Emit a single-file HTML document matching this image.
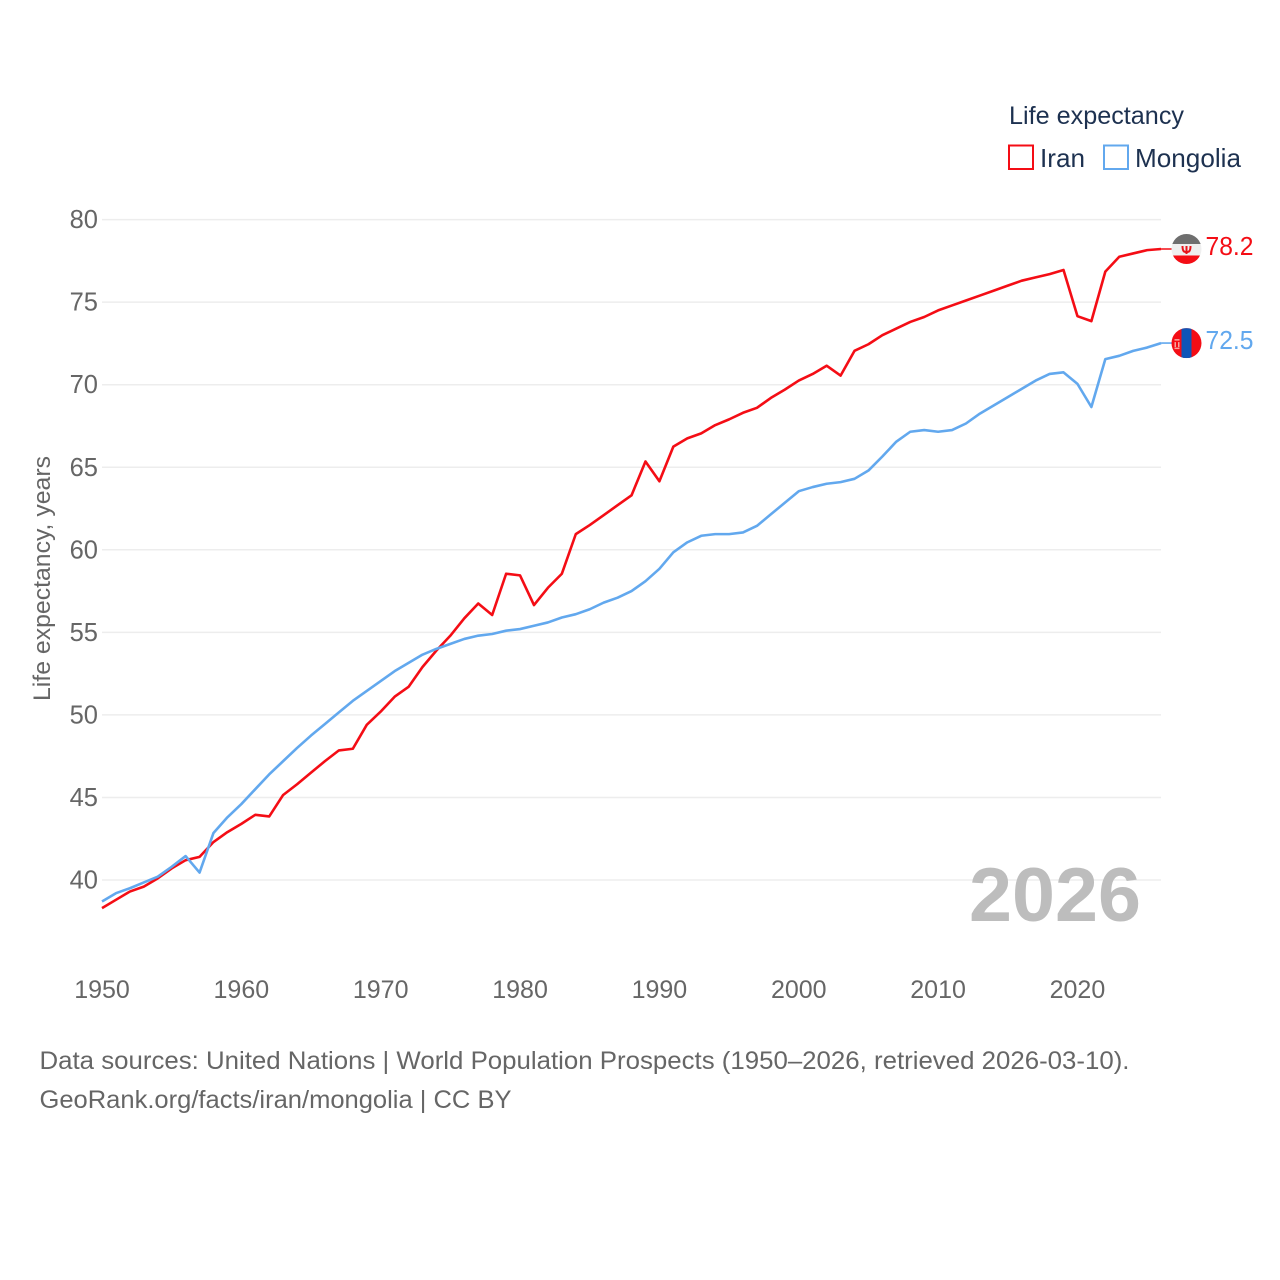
<!DOCTYPE html>
<html lang="en">
<head>
<meta charset="utf-8">
<title>Life expectancy: Iran and Mongolia</title>
<style>
html,body{margin:0;padding:0;background:#fff}
svg{display:block;font-family:"Liberation Sans",sans-serif}
</style>
</head>
<body>
<svg id="chart" xmlns="http://www.w3.org/2000/svg" width="1280" height="1280" viewBox="0 0 1280 1280">
  <defs>
    <clipPath id="flag-clip"><circle cx="0" cy="0" r="15"></circle></clipPath>
  </defs>
  <rect x="0" y="0" width="1280" height="1280" fill="#fff"></rect>
  <g id="grid"></g>
  <g id="y-ticks"></g>
  <g id="x-ticks"></g>
  <text transform="translate(50,701) rotate(-90)" font-size="24.5" fill="#666" textLength="245" lengthAdjust="spacingAndGlyphs">Life expectancy, years</text>
  <text x="969" y="921" font-size="76" font-weight="700" fill="#bdbdbd" textLength="172" lengthAdjust="spacingAndGlyphs">2026</text>
  <g id="series"></g>
  <g id="end-markers"></g>

  <g>
    <text x="1009" y="124" font-size="25" fill="#1d3150" textLength="175" lengthAdjust="spacingAndGlyphs">Life expectancy</text>
    <rect x="1009" y="145.5" width="24" height="23.5" fill="#fff" stroke="#f40d15" stroke-width="2"></rect>
    <text x="1040" y="167" font-size="26" fill="#1d3150" textLength="45" lengthAdjust="spacingAndGlyphs">Iran</text>
    <rect x="1104" y="145.5" width="24" height="23.5" fill="#fff" stroke="#62a8ee" stroke-width="2"></rect>
    <text x="1135" y="167" font-size="26" fill="#1d3150" textLength="106" lengthAdjust="spacingAndGlyphs">Mongolia</text>
  </g>

  <text x="39.5" y="1069" font-size="25" fill="#666" textLength="1090" lengthAdjust="spacingAndGlyphs">Data sources: United Nations | World Population Prospects (1950–2026, retrieved 2026-03-10).</text>
  <text x="39.5" y="1108" font-size="25" fill="#666" textLength="472" lengthAdjust="spacingAndGlyphs">GeoRank.org/facts/iran/mongolia | CC BY</text>
</svg>

<script>
const years = [1950,1951,1952,1953,1954,1955,1956,1957,1958,1959,1960,1961,1962,1963,1964,1965,1966,1967,1968,1969,1970,1971,1972,1973,1974,1975,1976,1977,1978,1979,1980,1981,1982,1983,1984,1985,1986,1987,1988,1989,1990,1991,1992,1993,1994,1995,1996,1997,1998,1999,2000,2001,2002,2003,2004,2005,2006,2007,2008,2009,2010,2011,2012,2013,2014,2015,2016,2017,2018,2019,2020,2021,2022,2023,2024,2025,2026];
const iranValues = [38.3,38.8,39.3,39.6,40.1,40.7,41.2,41.4,42.3,42.9,43.4,43.95,43.85,45.15,45.8,46.5,47.2,47.85,47.95,49.4,50.2,51.1,51.7,52.9,53.9,54.8,55.85,56.75,56.05,58.55,58.45,56.65,57.7,58.55,60.95,61.5,62.1,62.7,63.3,65.35,64.15,66.25,66.75,67.05,67.55,67.9,68.3,68.6,69.2,69.7,70.25,70.65,71.15,70.55,72.05,72.45,73,73.4,73.8,74.1,74.5,74.8,75.1,75.4,75.7,76,76.3,76.5,76.7,76.95,74.15,73.85,76.85,77.75,77.95,78.15,78.22];
const mongoliaValues = [38.7,39.2,39.5,39.85,40.2,40.8,41.45,40.45,42.85,43.8,44.6,45.5,46.4,47.2,48,48.75,49.45,50.15,50.85,51.45,52.05,52.65,53.15,53.65,54,54.3,54.6,54.8,54.9,55.1,55.2,55.4,55.6,55.9,56.1,56.4,56.8,57.1,57.5,58.1,58.85,59.85,60.45,60.85,60.95,60.95,61.05,61.45,62.15,62.85,63.55,63.8,64,64.1,64.3,64.8,65.65,66.55,67.15,67.25,67.15,67.25,67.65,68.25,68.75,69.25,69.75,70.25,70.65,70.75,70.05,68.65,71.55,71.75,72.05,72.25,72.52];
const yTickValues = [40,45,50,55,60,65,70,75,80];
const xTickValues = [1950,1960,1970,1980,1990,2000,2010,2020];

const SVG_NS = 'http://www.w3.org/2000/svg';
const xScale = function (year) { return 102 + (year - 1950) * 13.935; };
const yScale = function (value) { return 880 - (value - 40) * 16.51; };

const gridLayer = document.getElementById('grid');
const yTickLayer = document.getElementById('y-ticks');
const xTickLayer = document.getElementById('x-ticks');
const seriesLayer = document.getElementById('series');
const markerLayer = document.getElementById('end-markers');

function make(tag, attrs, parent, text) {
  const el = document.createElementNS(SVG_NS, tag);
  Object.keys(attrs).forEach(function (k) { el.setAttribute(k, attrs[k]); });
  if (text !== undefined) el.textContent = text;
  parent.appendChild(el);
  return el;
}

yTickValues.forEach(function (v) {
  const line = make('line', {x1: 102, x2: 1161, y1: yScale(v), y2: yScale(v), stroke: '#ededed', 'stroke-width': 1.5}, gridLayer);
  
  
  const label = make('text', {x: 98, y: yScale(v) + 8.5, 'text-anchor': 'end', 'font-size': 25.5, fill: '#666'}, yTickLayer, String(v));
  
  
});

xTickValues.forEach(function (yr) {
  const label = make('text', {x: xScale(yr), y: 998, 'text-anchor': 'middle', 'font-size': 25, fill: '#666'}, xTickLayer, String(yr));
  
  
});

function pathFor(values) {
  return values.map(function (v, i) {
    return (i ? 'L' : 'M') + xScale(years[i]).toFixed(2) + ' ' + yScale(v).toFixed(2);
  }).join(' ');
}

const iranLine = make('path', {d: pathFor(iranValues), fill: 'none', stroke: '#f40d15', 'stroke-width': 2.6, 'stroke-linejoin': 'round'}, seriesLayer);


const mongoliaLine = make('path', {d: pathFor(mongoliaValues), fill: 'none', stroke: '#62a8ee', 'stroke-width': 2.6, 'stroke-linejoin': 'round'}, seriesLayer);



const lastIndex = years.length - 1;
const markerX = 1186.5;
const lineEndX = xScale(years[lastIndex]);

/* Iran end marker */
const iranY = yScale(iranValues[lastIndex]);
const iranConnector = make('line', {x1: lineEndX, x2: markerX, y1: iranY, y2: iranY, stroke: '#f40d15', 'stroke-width': 1.6}, markerLayer);


const iranFlag = make('g', {transform: 'translate(' + markerX + ',' + iranY + ')', 'clip-path': 'url(#flag-clip)'}, markerLayer);


make('rect', {x: -15, y: -15, width: 30, height: 30, fill: '#efefef'}, iranFlag);
make('rect', {x: -15, y: -15, width: 30, height: 10, fill: '#6e6e6e'}, iranFlag);
make('rect', {x: -15, y: 6.5, width: 30, height: 9, fill: '#f40d15'}, iranFlag);
make('path', {d: 'M-4 -3 C-4 3 -2 3 0 3 C2 3 4 3 4 -3 M0 -3 V5', fill: 'none', stroke: '#e8131b', 'stroke-width': 2}, iranFlag);
const iranValueLabel = make('text', {x: 1205.5, y: iranY + 6, 'font-size': 25.5, fill: '#f40d15', textLength: 48, lengthAdjust: 'spacingAndGlyphs'}, markerLayer, iranValues[lastIndex].toFixed(1));



/* Mongolia end marker */
const mongoliaY = yScale(mongoliaValues[lastIndex]);
const mongoliaConnector = make('line', {x1: lineEndX, x2: markerX, y1: mongoliaY, y2: mongoliaY, stroke: '#62a8ee', 'stroke-width': 1.6}, markerLayer);


const mongoliaFlag = make('g', {transform: 'translate(' + markerX + ',' + mongoliaY + ')', 'clip-path': 'url(#flag-clip)'}, markerLayer);


make('rect', {x: -15, y: -15, width: 30, height: 30, fill: '#f40d15'}, mongoliaFlag);
make('rect', {x: -5, y: -15, width: 10, height: 30, fill: '#0f55b8'}, mongoliaFlag);
make('rect', {x: -12, y: -4, width: 5, height: 1.5, fill: '#f6a5a0'}, mongoliaFlag);
make('rect', {x: -12, y: -1, width: 1.5, height: 5, fill: '#f6a5a0'}, mongoliaFlag);
make('rect', {x: -8.5, y: -1, width: 1.5, height: 5, fill: '#f6a5a0'}, mongoliaFlag);
make('rect', {x: -12, y: 4.5, width: 5, height: 1.5, fill: '#f6a5a0'}, mongoliaFlag);
const mongoliaValueLabel = make('text', {x: 1205.5, y: mongoliaY + 6, 'font-size': 25.5, fill: '#62a8ee', textLength: 48, lengthAdjust: 'spacingAndGlyphs'}, markerLayer, mongoliaValues[lastIndex].toFixed(1));


</script>
</body>
</html>
